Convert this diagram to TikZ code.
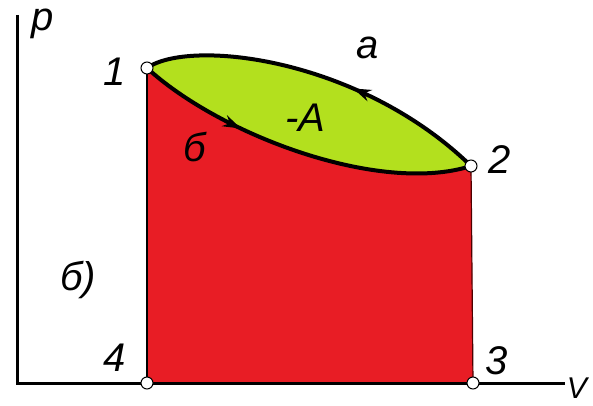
\documentclass[tikz,border=0pt]{standalone}
\usepackage{fontspec}
\setmainfont{Liberation Sans}
\usetikzlibrary{decorations.markings,arrows.meta}
\definecolor{cred}{HTML}{E81D25}
\definecolor{cgreen}{HTML}{B3E01E}
\tikzset{
  axis/.style={line width=3pt},
  curve/.style={line width=4pt},
  pt/.style={circle,draw=black,fill=white,line width=1pt,minimum size=12pt,inner sep=0pt},
  lbl/.style={font=\fontsize{40}{44}\selectfont\itshape,inner sep=0pt},
  fwd/.style={postaction={decorate},decoration={markings,mark=at position #1 with {\arrow{Stealth[length=18pt,width=12pt]}}}},
  bwd/.style={postaction={decorate},decoration={markings,mark=at position #1 with {\arrowreversed{Stealth[length=18pt,width=12pt]}}}}
}
\begin{document}
\begin{tikzpicture}[x=1pt,y=-1pt]
\useasboundingbox (0,0) rectangle (593,406);
\coordinate (ytop) at (17,15);
\coordinate (o) at (17,383);
\coordinate (xend) at (565,383);
\coordinate (c1) at (147,68);
\coordinate (c2) at (471,166);
\coordinate (c3) at (473,383);
\coordinate (c4) at (147,383);
% red area
\fill[cred] (c1) .. controls (220,135) and (380,195) .. (c2) -- (c3) -- (c4) -- cycle;
% green area
\fill[cgreen] (c1) .. controls (190,38) and (360,58) .. (c2) .. controls (380,195) and (220,135) .. (c1) -- cycle;
% curves
\draw[curve,bwd=0.6] (c1) .. controls (190,38) and (360,58) .. (c2);
\draw[curve,fwd=0.32] (c1) .. controls (220,135) and (380,195) .. (c2);
% verticals
\draw[line width=2.5pt] (c1) -- (c4);
\draw[line width=1.2pt,black!70!red] (c2) -- (c3);
% axes
\draw[axis] (ytop) -- (o) -- (xend);
% points
\node[pt] (p1) at (c1) {};
\node[pt] (p2) at (c2) {};
\node[pt] (p3) at (c3) {};
\node[pt] (p4) at (c4) {};
% labels
\node[lbl] (lp) at (43,24) {p};
\node[lbl,font=\fontsize{30}{34}\selectfont\itshape,anchor=east] (lv) at (587,388) {V};
\node[lbl] (l1) at (115,72) {1};
\node[lbl] (l2) at (500,160) {2};
\node[lbl] (l3) at (497,361) {3};
\node[lbl] (l4) at (115,358) {4};
\node[lbl] (la) at (368,48) {a};
\node[lbl] (lA) at (305,118) {-A};
\node[lbl] (lb) at (195,147) {б};
\node[lbl] (lb2) at (78,280) {б)};
\end{tikzpicture}
\end{document}
